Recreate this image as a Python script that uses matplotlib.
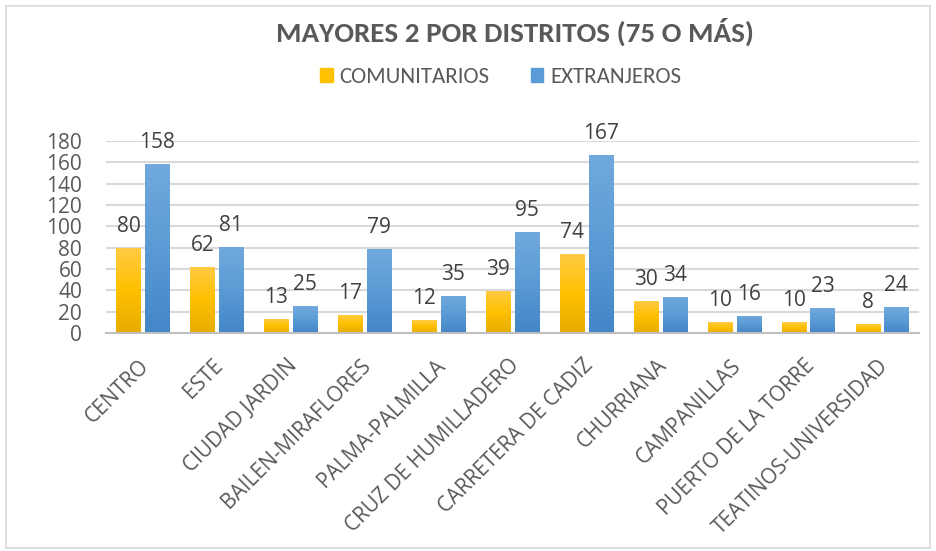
import numpy as np
import matplotlib.pyplot as plt
import matplotlib.transforms as mtransforms
from matplotlib.patches import Rectangle, Patch
from matplotlib.colors import LinearSegmentedColormap

# datos
distritos = ['CENTRO', 'ESTE', 'CIUDAD JARDIN', 'BAILEN-MIRAFLORES', 'PALMA-PALMILLA',
             'CRUZ DE HUMILLADERO', 'CARRETERA DE CADIZ', 'CHURRIANA', 'CAMPANILLAS',
             'PUERTO DE LA TORRE', 'TEATINOS-UNIVERSIDAD']
comunitarios = [80, 62, 13, 17, 12, 39, 74, 30, 10, 10, 8]
extranjeros = [158, 81, 25, 79, 35, 95, 167, 34, 16, 23, 24]
y_ticks = [0, 20, 40, 60, 80, 100, 120, 140, 160, 180]

plt.rcParams['font.family'] = ['Open Sans', 'DejaVu Sans']
narrow = ['Carlito', 'Open Sans', 'DejaVu Sans']
txt = '#595959'

fig = plt.figure(figsize=(9.36, 5.51), dpi=100)
fig.patches.append(Rectangle((0.006, 0.006), 0.988, 0.984, transform=fig.transFigure,
                             fill=False, edgecolor='#D9D9D9', lw=1.2))
ax = fig.add_axes([0.113, 0.3956, 0.869, 0.3485])

x = np.arange(len(distritos))
w = 0.325
b1 = ax.bar(x - w/2 - 0.03, comunitarios, w, color='#FFC000')
b2 = ax.bar(x + w/2 + 0.03, extranjeros, w, color='#5B9BD5')

# degradado tipo Excel
cm_y = LinearSegmentedColormap.from_list('y', ['#E6AC00', '#FFC000', '#FFCB45'])
cm_b = LinearSegmentedColormap.from_list('b', ['#4386C8', '#5B9BD5', '#71A9DD'])
grad = np.linspace(0, 1, 100).reshape(-1, 1)
for bars, cm in ((b1, cm_y), (b2, cm_b)):
    for r in bars:
        r.set_facecolor('none')
        r.set_edgecolor('none')
        x0, y0 = r.get_x(), r.get_y()
        im = ax.imshow(grad, cmap=cm, origin='lower', aspect='auto', zorder=2,
                       extent=(x0, x0 + r.get_width(), y0, y0 + r.get_height()))
        im.set_clip_path(r)
ax.set_xlim(-0.5, len(distritos) - 0.5)
ax.set_ylim(0, 180)

for bars, vals in ((b1, comunitarios), (b2, extranjeros)):
    for r, v in zip(bars, vals):
        ax.annotate(str(v), (r.get_x() + r.get_width()/2, v), xytext=(0, 8),
                    textcoords='offset points', ha='center', va='bottom',
                    fontsize=15, color='#404040', annotation_clip=False)

ax.set_yticks(y_ticks)
ax.yaxis.grid(True, color='#D9D9D9', lw=1.5)
ax.set_axisbelow(True)
for s in ['top', 'right', 'left']:
    ax.spines[s].set_visible(False)
ax.spines['bottom'].set_color('#BFBFBF')
ax.spines['bottom'].set_linewidth(1.5)
ax.tick_params(axis='y', length=0, pad=17, labelsize=15, labelcolor=txt)
ax.tick_params(axis='x', length=0, pad=16, labelsize=15, labelcolor=txt)
ax.set_xticks(x)
ax.set_xticklabels(distritos, rotation=45, ha='right', rotation_mode='anchor')
shift = mtransforms.ScaledTranslation(-4/100, 0, fig.dpi_scale_trans)
for lab in ax.get_xticklabels():
    lab.set_transform(lab.get_transform() + shift)

fig.text(0.55, 0.942, 'MAYORES 2 POR DISTRITOS (75 O MÁS)', ha='center', va='center',
         fontsize=21, fontweight='bold', color=txt, family=narrow)
handles = [Patch(color='#FFC000', label='COMUNITARIOS'),
           Patch(color='#5B9BD5', label='EXTRANJEROS')]
fig.legend(handles=handles, loc='center', bbox_to_anchor=(0.535, 0.86), ncol=2,
           frameon=False, prop={'family': narrow, 'size': 16.5}, labelcolor=txt,
           handlelength=0.55, handleheight=0.55, handletextpad=0.3, columnspacing=1.8)

plt.savefig('out.png', dpi=100)
